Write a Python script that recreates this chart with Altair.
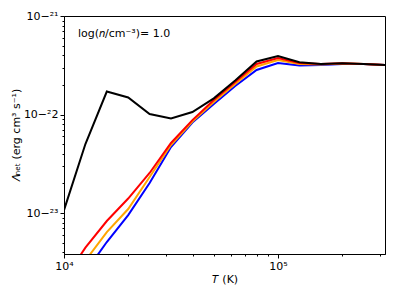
import altair as alt
import pandas as pd

# Temperature grid (K)
T = [1.0e4, 1.259e4, 1.585e4, 1.995e4, 2.512e4, 3.162e4, 3.981e4, 5.012e4,
     6.310e4, 7.943e4, 1.0e5, 1.259e5, 1.585e5, 1.995e5, 2.512e5, 3.162e5]

# Net cooling rate (erg cm^3 s^-1)
lam_blue = [1.22e-24, 2.52e-24, 5.08e-24, 9.54e-24, 2.02e-23, 4.68e-23, 8.30e-23, 1.278e-22,
            1.947e-22, 2.83e-22, 3.333e-22, 3.144e-22, 3.18e-22, 3.256e-22, 3.256e-22, 3.18e-22]
lam_orange = [1.58e-24, 3.29e-24, 6.41e-24, 1.098e-23, 2.32e-23, 4.90e-23, 8.49e-23, 1.339e-22,
              2.04e-22, 3.071e-22, 3.575e-22, 3.256e-22, 3.218e-22, 3.294e-22, 3.256e-22, 3.18e-22]
lam_red = [2.09e-24, 4.46e-24, 8.30e-24, 1.403e-23, 2.55e-23, 5.14e-23, 8.77e-23, 1.403e-22,
           2.138e-22, 3.256e-22, 3.746e-22, 3.333e-22, 3.256e-22, 3.31e-22, 3.256e-22, 3.18e-22]
lam_black = [1.072e-23, 5.02e-23, 1.712e-22, 1.488e-22, 1.012e-22, 9.11e-23, 1.06e-22, 1.46e-22,
             2.214e-22, 3.452e-22, 3.926e-22, 3.388e-22, 3.256e-22, 3.31e-22, 3.256e-22, 3.18e-22]

series = ["blue", "orange", "red", "black"]
colors = ["#0000ff", "#ffa500", "#ff0000", "#000000"]
values = [lam_blue, lam_orange, lam_red, lam_black]

x_domain = [1.0e4, 3.162e5]
y_domain = [3.84e-24, 1.0e-21]

x_ticks = [1e4, 2e4, 3e4, 4e4, 5e4, 6e4, 7e4, 8e4, 9e4, 1e5, 2e5, 3e5]
y_ticks = [4e-24, 5e-24, 6e-24, 7e-24, 8e-24, 9e-24,
           1e-23, 2e-23, 3e-23, 4e-23, 5e-23, 6e-23, 7e-23, 8e-23, 9e-23,
           1e-22, 2e-22, 3e-22, 4e-22, 5e-22, 6e-22, 7e-22, 8e-22, 9e-22, 1e-21]

annotation = "log(𝑛/cm⁻³)= 1.0"

rows = []
for name, vals in zip(series, values):
    for i, (t, v) in enumerate(zip(T, vals)):
        rows.append({"T": t, "L": v, "s": name, "i": i})
df = pd.DataFrame(rows)

FONT = "DejaVu Sans"
major_test = "abs(log(datum.value)/LN10 - round(log(datum.value)/LN10)) < 0.001"
sup = ("replace(replace(replace(replace(replace(replace(replace(replace(replace(replace(replace("
       "format(round(log(datum.value)/LN10), 'd'),"
       "'-', '⁻'), '0', '⁰'), '1', '¹'), '2', '²'), '3', '³'), '4', '⁴'), '5', '⁵'),"
       "'6', '⁶'), '7', '⁷'), '8', '⁸'), '9', '⁹')")
label_expr = f"({major_test}) ? '10' + {sup} : ''"

def axis(vals, title, **kw):
    return alt.Axis(
        values=vals,
        labelExpr=label_expr,
        tickSize={"condition": {"test": major_test, "value": 4}, "value": 2},
        tickColor="#000000",
        domainColor="#000000",
        labelColor="#000000",
        labelFont=FONT,
        labelFontSize=11,
        labelFlush=False,
        labelPadding=2,
        grid=False,
        title=title,
        titleFont=FONT,
        titleFontSize=11,
        titleFontWeight="normal",
        titleColor="#000000",
        **kw,
    )

base = alt.Chart(df).mark_line(clip=True, strokeWidth=2).encode(
    x=alt.X("T:Q", scale=alt.Scale(type="log", domain=x_domain, nice=False),
            axis=axis(x_ticks, "𝑇 (K)", titlePadding=2)),
    y=alt.Y("L:Q", scale=alt.Scale(type="log", domain=y_domain, nice=False),
            axis=axis(y_ticks, "𝛬ₙₑₜ (erg cm³ s⁻¹)", titlePadding=2)),
    order="i:Q",
)

layers = [base.transform_filter(alt.datum.s == n).encode(color=alt.value(c))
          for n, c in zip(series, colors)]

text = alt.Chart(pd.DataFrame({"t": [annotation]})).mark_text(
    align="left", baseline="middle", fontSize=11, font=FONT, color="#000000"
).encode(x=alt.value(14), y=alt.value(18), text="t:N")

chart = alt.layer(*layers, text).properties(
    width=321, height=238,
    autosize=alt.AutoSizeParams(type="none"),
    padding={"left": 56, "top": 8, "right": 6, "bottom": 37},
).configure_view(stroke="#000000", strokeWidth=1)

chart.save("out.html", embed_options={"renderer": "svg", "actions": False})
